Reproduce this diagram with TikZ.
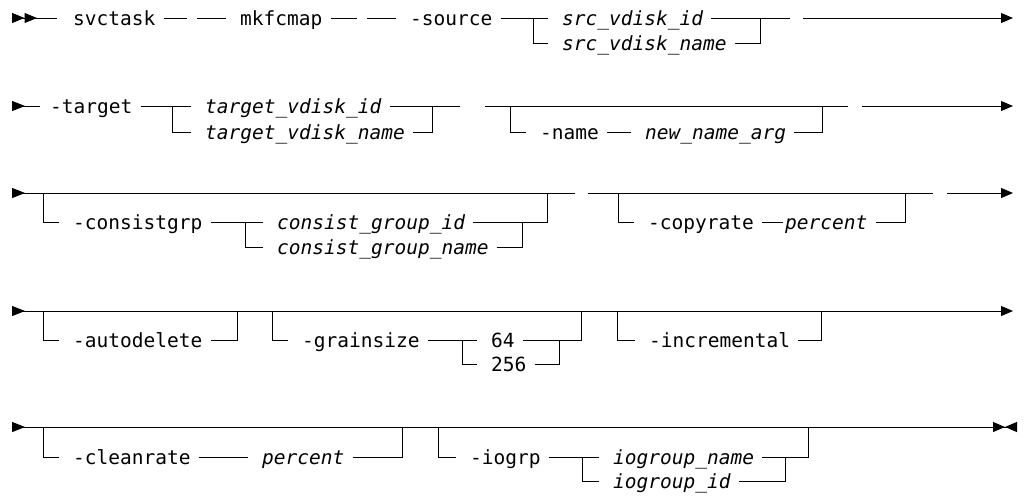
\documentclass[tikz,border=0pt]{standalone}
\usepackage{fontspec}
\setmonofont{DejaVu Sans Mono}
\usetikzlibrary{arrows.meta}

\begin{document}
\begin{tikzpicture}[
    x=1pt, y=-1pt,
    kw/.style={anchor=west, inner xsep=0pt, inner ysep=0pt, text height=17pt, text depth=3pt, font=\ttfamily\fontsize{19.5}{20}\selectfont},
    var/.style={kw, font=\ttfamily\itshape\fontsize{19.5}{20}\selectfont},
    rail/.style={line width=1pt},
    leave/.style={rail, shorten <=8pt},
    enter/.style={rail, shorten >=14pt},
    link/.style={rail, shorten <=8pt, shorten >=14pt},
    railin/.style={rail, {Triangle[reversed,length=13pt,width=10pt]}-},
    railin2/.style={rail, {Triangle[reversed,length=12.5pt,width=10pt,sep=0pt]Triangle[reversed,length=12.5pt,width=10pt,sep=0pt]}-},
    railout/.style={rail, -{Triangle[length=12pt,width=10pt]}},
    railthru/.style={rail, {Triangle[reversed,length=13pt,width=10pt]}-{Triangle[length=12pt,width=10pt]}},
    railfin/.style={rail, {Triangle[reversed,length=13pt,width=10pt]}-{Triangle[length=12pt,width=10pt,sep=0pt]Triangle[reversed,length=12pt,width=10pt,sep=0pt]}}
]
\useasboundingbox (0,0) rectangle (1024,499);

% Row 1: command and source
\node[kw] (svctask) at (73,18) {svctask};
\node[kw] (mkfcmap) at (240,18) {mkfcmap};
\node[kw] (source) at (410,18) {-source};
\node[var] (srcid) at (562,18) {src\_vdisk\_id};
\node[var] (srcname) at (562,43) {src\_vdisk\_name};

\coordinate (in1) at (12,18);
\coordinate (a1) at (57,18);
\coordinate (b1) at (187,18);
\coordinate (c1) at (197,18);
\coordinate (d1) at (357,18);
\coordinate (e1) at (367,18);
\coordinate (j1) at (533,18);
\coordinate (k1) at (760,18);
\coordinate (f1) at (790,18);
\coordinate (g1) at (803,18);
\coordinate (out1) at (1013,18);

\draw[railin2] (in1) -- (a1);
\draw[leave] (svctask.east) -- (b1);
\draw[enter] (c1) -- (mkfcmap.west);
\draw[leave] (mkfcmap.east) -- (d1);
\draw[enter] (e1) -- (source.west);
\draw[link] (source.east) -- (srcid.west);
\draw[enter] (j1) |- (srcname.west);
\draw[leave] (srcid.east) -- (f1);
\draw[leave] (srcname.east) -| (k1);
\draw[railout] (g1) -- (out1);

% Row 2: target and name
\node[kw] (target) at (50,106) {-target};
\node[var] (tvid) at (205,106) {target\_vdisk\_id};
\node[var] (tvname) at (205,132) {target\_vdisk\_name};
\node[kw] (name) at (540,132) {-name};
\node[var] (newname) at (645,132) {new\_name\_arg};

\coordinate (in2) at (12,106);
\coordinate (a2) at (40,106);
\coordinate (j2) at (172,106);
\coordinate (k2) at (432,106);
\coordinate (f2) at (460,106);
\coordinate (g2) at (485,106);
\coordinate (m2) at (510,106);
\coordinate (n2) at (822,106);
\coordinate (h2) at (848,106);
\coordinate (i2) at (862,106);
\coordinate (out2) at (1013,106);

\draw[railin] (in2) -- (a2);
\draw[link] (target.east) -- (tvid.west);
\draw[enter] (j2) |- (tvname.west);
\draw[leave] (tvid.east) -- (f2);
\draw[leave] (tvname.east) -| (k2);
\draw[rail] (g2) -- (h2);
\draw[enter] (m2) |- (name.west);
\draw[link] (name.east) -- (newname.west);
\draw[leave] (newname.east) -| (n2);
\draw[railout] (i2) -- (out2);

% Row 3: consistency group and copy rate
\node[kw] (consistgrp) at (73,222) {-consistgrp};
\node[var] (cgid) at (277,222) {consist\_group\_id};
\node[var] (cgname) at (277,247) {consist\_group\_name};
\node[kw] (copyrate) at (648,222) {-copyrate};
\node[var] (pct1) at (785,222) {percent};

\coordinate (in3) at (12,193);
\coordinate (m3) at (43,193);
\coordinate (n3) at (547,193);
\coordinate (f3) at (575,193);
\coordinate (p3) at (245,222);
\coordinate (q3) at (522,222);
\coordinate (g3) at (588,193);
\coordinate (r3) at (618,193);
\coordinate (s3) at (905,193);
\coordinate (h3) at (933,193);
\coordinate (i3) at (947,193);
\coordinate (out3) at (1013,193);

\draw[railin] (in3) -- (f3);
\draw[enter] (m3) |- (consistgrp.west);
\draw[link] (consistgrp.east) -- (cgid.west);
\draw[enter] (p3) |- (cgname.west);
\draw[leave] (cgid.east) -| (n3);
\draw[leave] (cgname.east) -| (q3);
\draw[rail] (g3) -- (h3);
\draw[enter] (r3) |- (copyrate.west);
\draw[rail, shorten <=8pt, shorten >=2pt] (copyrate.east) -- (pct1.west);
\draw[leave] (pct1.east) -| (s3);
\draw[railout] (i3) -- (out3);

% Row 4: autodelete, grain size, incremental
\node[kw] (autodelete) at (73,340) {-autodelete};
\node[kw] (grainsize) at (302,340) {-grainsize};
\node[kw] (g64) at (491,340) {64};
\node[kw] (g256) at (491,364) {256};
\node[kw] (incremental) at (649,340) {-incremental};

\coordinate (in4) at (12,311);
\coordinate (m4) at (43,311);
\coordinate (n4) at (237,311);
\coordinate (m4b) at (272,311);
\coordinate (n4b) at (581,311);
\coordinate (m4c) at (617,311);
\coordinate (n4c) at (821,311);
\coordinate (p4) at (462,340);
\coordinate (q4) at (559,340);
\coordinate (out4) at (1013,311);

\draw[railthru] (in4) -- (out4);
\draw[enter] (m4) |- (autodelete.west);
\draw[leave] (autodelete.east) -| (n4);
\draw[enter] (m4b) |- (grainsize.west);
\draw[link] (grainsize.east) -- (g64.west);
\draw[enter] (p4) |- (g256.west);
\draw[leave] (g64.east) -| (n4b);
\draw[leave] (g256.east) -| (q4);
\draw[enter] (m4c) |- (incremental.west);
\draw[leave] (incremental.east) -| (n4c);

% Row 5: clean rate and I/O group
\node[kw] (cleanrate) at (73,457) {-cleanrate};
\node[var] (pct2) at (262,457) {percent};
\node[kw] (iogrp) at (470,457) {-iogrp};
\node[var] (ioname) at (613,457) {iogroup\_name};
\node[var] (ioid) at (613,481) {iogroup\_id};

\coordinate (in5) at (12,427);
\coordinate (m5) at (43,427);
\coordinate (n5) at (402,427);
\coordinate (m5b) at (438,427);
\coordinate (n5b) at (808,427);
\coordinate (p5) at (582,457);
\coordinate (q5) at (785,457);
\coordinate (out5) at (1017,427);

\draw[railfin] (in5) -- (out5);
\draw[enter] (m5) |- (cleanrate.west);
\draw[link] (cleanrate.east) -- (pct2.west);
\draw[leave] (pct2.east) -| (n5);
\draw[enter] (m5b) |- (iogrp.west);
\draw[link] (iogrp.east) -- (ioname.west);
\draw[enter] (p5) |- (ioid.west);
\draw[leave] (ioname.east) -| (n5b);
\draw[leave] (ioid.east) -| (q5);

\end{tikzpicture}
\end{document}
